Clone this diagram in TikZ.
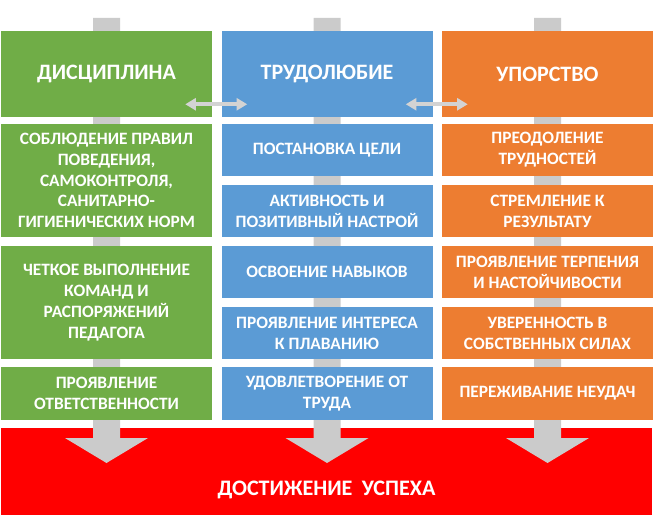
\documentclass[tikz,border=0pt]{standalone}
\usepackage{fontspec}
\setmainfont{Carlito}
\usetikzlibrary{arrows.meta}
\definecolor{grn}{HTML}{70AD47}
\definecolor{blu}{HTML}{5B9BD5}
\definecolor{orn}{HTML}{ED7D31}
\definecolor{bargray}{HTML}{CBCBCB}
\definecolor{linkgray}{HTML}{D3D3D3}
\tikzset{
	box/.style={minimum width=158.25pt, minimum height=39pt, inner sep=0pt, text=white, align=center, font=\bfseries\fontsize{13}{15.6}\selectfont},
	head/.style={box, minimum height=64.5pt, font=\bfseries\fontsize{16.5}{20}\selectfont},
	link/.style={draw=linkgray, line width=3pt, {Triangle[length=8pt,width=9pt]}-{Triangle[length=8pt,width=9pt]}}
}
\begin{document}
\begin{tikzpicture}[x=0.75pt, y=-0.75pt]
	\useasboundingbox (0,0) rectangle (667,531);
	\node[box, fill=red, minimum width=488.25pt, minimum height=65.25pt] (goal) at (326.5,471.5) {};
	\node[anchor=base, text=white, font=\bfseries\fontsize{16.6}{20}\selectfont] (goaltxt) at (326.5,495) {ДОСТИЖЕНИЕ\hspace{7pt}УСПЕХА};
	\foreach \c in {106.5, 327, 547.5}
		\fill[bargray] (\c-13.5,18) -- (\c+13.5,18) -- (\c+13.5,438) -- (\c+41.5,438) -- (\c,463) -- (\c-41.5,438) -- (\c-13.5,438) -- cycle;
	% headers
	\node[head, fill=grn] (disc) at (106.5,74) {ДИСЦИПЛИНА};
	\node[head, fill=blu] (trud) at (327,74) {ТРУДОЛЮБИЕ};
	\node[head, fill=orn] (upor) at (547.5,74) {УПОРСТВО};
	\draw[link] ([shift={(-27,-13)}]disc.south east) -- ([shift={(26,-13)}]trud.south west);
	\draw[link] ([shift={(-27,-13)}]trud.south east) -- ([shift={(26,-13)}]upor.south west);
	% discipline
	\node[box, fill=grn, minimum height=84.75pt] (d1) at (106.5,180.5) {СОБЛЮДЕНИЕ ПРАВИЛ\\ПОВЕДЕНИЯ,\\САМОКОНТРОЛЯ,\\САНИТАРНО-\\ГИГИЕНИЧЕСКИХ НОРМ};
	\node[box, fill=grn, minimum height=84.75pt] (d2) at (106.5,302.5) {ЧЕТКОЕ ВЫПОЛНЕНИЕ\\КОМАНД И\\РАСПОРЯЖЕНИЙ\\ПЕДАГОГА};
	\node[box, fill=grn, minimum height=39.75pt] (d3) at (106.5,393.5) {ПРОЯВЛЕНИЕ\\ОТВЕТСТВЕННОСТИ};
	% diligence
	\node[box, fill=blu] (t1) at (327,150) {ПОСТАНОВКА ЦЕЛИ};
	\node[box, fill=blu] (t2) at (327,211) {АКТИВНОСТЬ И\\ПОЗИТИВНЫЙ НАСТРОЙ};
	\node[box, fill=blu] (t3) at (327,272) {ОСВОЕНИЕ НАВЫКОВ};
	\node[box, fill=blu] (t4) at (327,333) {ПРОЯВЛЕНИЕ ИНТЕРЕСА\\К ПЛАВАНИЮ};
	\node[box, fill=blu, minimum height=39.75pt] (t5) at (327,393.5) {УДОВЛЕТВОРЕНИЕ ОТ\\ТРУДА};
	% persistence
	\node[box, fill=orn] (u1) at (547.5,150) {ПРЕОДОЛЕНИЕ\\ТРУДНОСТЕЙ};
	\node[box, fill=orn] (u2) at (547.5,211) {СТРЕМЛЕНИЕ К\\РЕЗУЛЬТАТУ};
	\node[box, fill=orn] (u3) at (547.5,272) {ПРОЯВЛЕНИЕ ТЕРПЕНИЯ\\И НАСТОЙЧИВОСТИ};
	\node[box, fill=orn] (u4) at (547.5,333) {УВЕРЕННОСТЬ В\\СОБСТВЕННЫХ СИЛАХ};
	\node[box, fill=orn, minimum height=39.75pt] (u5) at (547.5,393.5) {ПЕРЕЖИВАНИЕ НЕУДАЧ};
\end{tikzpicture}
\end{document}
